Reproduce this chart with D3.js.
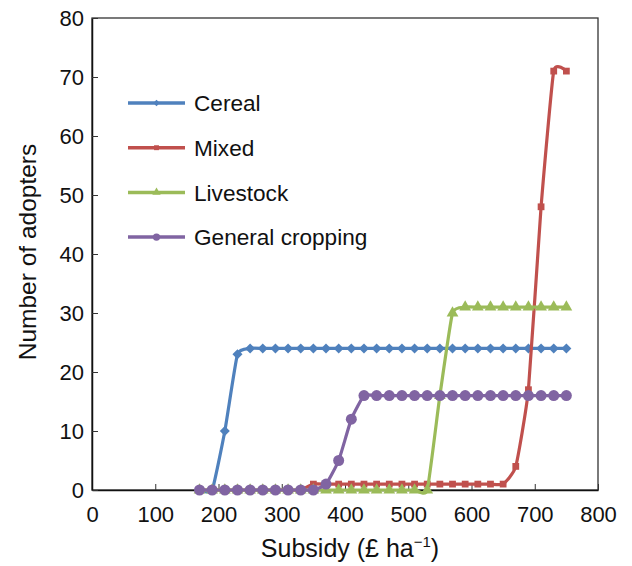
<!DOCTYPE html>
<html>
<head>
<meta charset="utf-8">
<script src="https://cdn.jsdelivr.net/npm/d3@7"></script>
<style>
  html, body { margin: 0; padding: 0; background: #fff; }
  svg { display: block; font-family: "Liberation Sans", Arial, sans-serif; }
</style>
</head>
<body>
<div id="chart"></div>
<script>
// Subsidy levels (£ ha-1)
const subsidy = [170, 190, 210, 230, 250, 270, 290, 310, 330, 350,
                 370, 390, 410, 430, 450, 470, 490, 510, 530, 550,
                 570, 590, 610, 630, 650, 670, 690, 710, 730, 750];

const cereal    = [0, 0, 10, 23, 24, 24, 24, 24, 24, 24,
                   24, 24, 24, 24, 24, 24, 24, 24, 24, 24,
                   24, 24, 24, 24, 24, 24, 24, 24, 24, 24];
const mixed     = [0, 0, 0, 0, 0, 0, 0, 0, 0, 1,
                   1, 1, 1, 1, 1, 1, 1, 1, 1, 1,
                   1, 1, 1, 1, 1, 4, 17, 48, 71, 71];
const livestock = [0, 0, 0, 0, 0, 0, 0, 0, 0, 0,
                   0, 0, 0, 0, 0, 0, 0, 0, 0, 16,
                   30, 31, 31, 31, 31, 31, 31, 31, 31, 31];
const general   = [0, 0, 0, 0, 0, 0, 0, 0, 0, 0,
                   1, 5, 12, 16, 16, 16, 16, 16, 16, 16,
                   16, 16, 16, 16, 16, 16, 16, 16, 16, 16];

const seriesNames = ["Cereal", "Mixed", "Livestock", "General cropping"];
const xTicks = [0, 100, 200, 300, 400, 500, 600, 700, 800];
const yTicks = [0, 10, 20, 30, 40, 50, 60, 70, 80];

const W = 632, H = 566;
const M = { left: 92, right: 34, top: 18, bottom: 76 };
const iW = W - M.left - M.right;
const iH = H - M.top - M.bottom;

const series = [
  { name: seriesNames[0], values: cereal,    color: "#4F81BD", shape: d3.symbolDiamond2, size: 64, lsize: 26 },
  { name: seriesNames[1], values: mixed,     color: "#C0504D", shape: d3.symbolSquare,   size: 46, lsize: 24 },
  { name: seriesNames[2], values: livestock, color: "#9BBB59", shape: d3.symbolTriangle, size: 60, lsize: 30 },
  { name: seriesNames[3], values: general,   color: "#8064A2", shape: d3.symbolCircle,   size: 95, lsize: 42 }
];

const svg = d3.select("#chart").append("svg")
  .attr("width", W).attr("height", H)
  .attr("viewBox", `0 0 ${W} ${H}`);
const g = svg.append("g").attr("transform", `translate(${M.left},${M.top})`);

const x = d3.scaleLinear().domain([0, 800]).range([0, iW]);
const y = d3.scaleLinear().domain([0, 80]).range([iH, 0]);

// Frame
g.append("rect")
  .attr("width", iW).attr("height", iH)
  .attr("fill", "none").attr("stroke", "#333").attr("stroke-width", 1.3);

// Axes (ticks point inward)
g.append("g").attr("transform", `translate(0,${iH})`)
  .call(d3.axisBottom(x).tickValues(xTicks).tickSizeInner(-6).tickSizeOuter(0).tickPadding(16))
  .call(a => a.select(".domain").attr("stroke", "#111").attr("stroke-width", 1.5))
  .call(a => a.selectAll(".tick line").attr("stroke", "#333"))
  .call(a => a.selectAll("text").attr("fill", "#111").attr("font-size", 22)
    .attr("font-family", "'Liberation Sans', Arial, sans-serif"));

g.append("g")
  .call(d3.axisLeft(y).tickValues(yTicks).tickSizeInner(-6).tickSizeOuter(0).tickPadding(8))
  .call(a => a.select(".domain").attr("stroke", "#111").attr("stroke-width", 1.5))
  .call(a => a.selectAll(".tick line").attr("stroke", "#333"))
  .call(a => a.selectAll("text").attr("fill", "#111").attr("font-size", 22)
    .attr("font-family", "'Liberation Sans', Arial, sans-serif"));

// Lines + markers (lightly smoothed, like the source)
const line = d3.line()
  .x((d, i) => x(subsidy[i])).y(d => y(d))
  .curve(d3.curveCardinal.tension(0.55));

series.forEach(s => {
  g.append("path").datum(s.values)
    .attr("fill", "none").attr("stroke", s.color)
    .attr("stroke-width", 3.2).attr("stroke-linejoin", "round")
    .attr("d", line);

  const sym = d3.symbol().type(s.shape).size(s.size);
  g.append("g").selectAll("path").data(s.values).join("path")
    .attr("transform", (d, i) => `translate(${x(subsidy[i])},${y(d)})`)
    .attr("fill", s.color)
    .attr("d", sym);
});

// Legend
const legend = svg.append("g").attr("transform", "translate(128,103)");
series.forEach((s, i) => {
  const row = legend.append("g").attr("transform", `translate(0,${i * 44.7})`);
  row.append("line").attr("x1", 0).attr("x2", 57)
    .attr("stroke", s.color).attr("stroke-width", 3.5);
  row.append("path").attr("transform", "translate(28.5,0)")
    .attr("fill", s.color)
    .attr("d", d3.symbol().type(s.shape).size(s.lsize));
  row.append("text").attr("x", 66).attr("dy", "0.36em")
    .attr("font-size", 22.6).attr("fill", "#111")
    .text(s.name);
});

// Axis titles
svg.append("text")
  .attr("transform", `translate(36,${M.top + iH / 2 - 2}) rotate(-90)`)
  .attr("text-anchor", "middle").attr("font-size", 24.5).attr("fill", "#111")
  .text("Number of adopters");

const xt = svg.append("text")
  .attr("x", 350).attr("y", 557)
  .attr("text-anchor", "middle").attr("font-size", 25).attr("fill", "#111");
xt.append("tspan").text("Subsidy (£ ha");
xt.append("tspan").attr("font-size", 15).attr("dy", -10).text("−1");
xt.append("tspan").attr("dy", 10).text(")");
</script>
</body>
</html>
